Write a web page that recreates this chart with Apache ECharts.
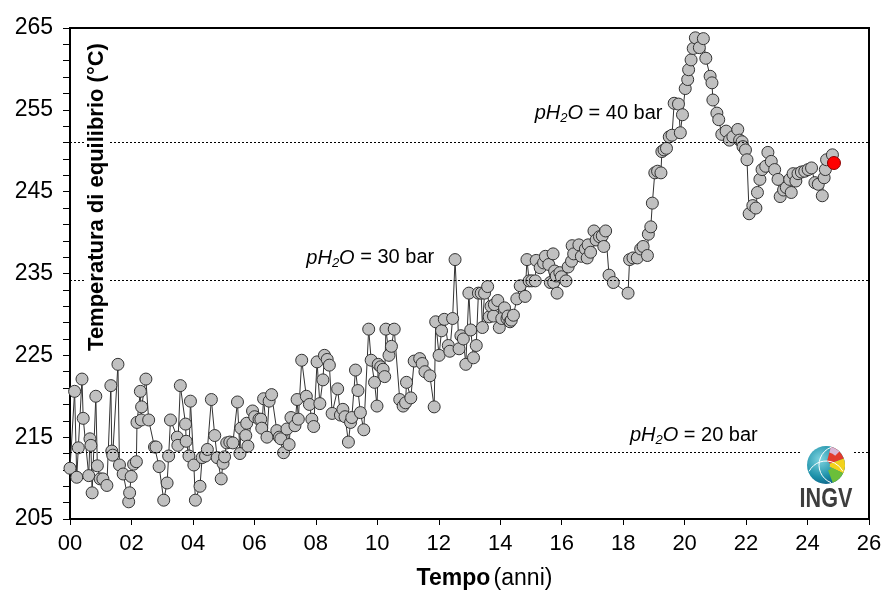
<!DOCTYPE html>
<html>
<head>
<meta charset="UTF-8">
<title>Temperatura di equilibrio</title>
<script type="text/javascript" src="https://cdn.jsdelivr.net/npm/echarts@6/dist/echarts.min.js"></script>
<style>
  body{margin:0;background:#fff}
</style>
</head>
<body>
<div id="main" style="width:882px;height:590px"></div>
<script type="text/javascript">
// tempo in anni e temperatura di equilibrio (°C)
var anni = [0.00,0.15,0.22,0.27,0.39,0.43,0.61,0.65,0.68,0.72,0.84,0.89,0.98,1.07,1.20,1.33,1.36,1.39,1.56,1.61,
  1.73,1.91,1.94,1.99,2.07,2.16,2.18,2.29,2.32,2.33,2.47,2.56,2.75,2.80,2.90,3.05,3.16,3.21,3.27,3.49,
  3.51,3.59,3.76,3.78,3.87,3.92,4.03,4.08,4.23,4.30,4.41,4.47,4.60,4.71,4.79,4.92,4.98,5.03,5.10,5.20,
  5.30,5.45,5.53,5.56,5.72,5.75,5.79,5.94,6.01,6.15,6.21,6.24,6.30,6.41,6.48,6.56,6.73,6.81,6.86,6.95,
  7.06,7.13,7.19,7.32,7.39,7.43,7.54,7.69,7.79,7.87,7.93,8.04,8.13,8.23,8.28,8.37,8.44,8.53,8.71,8.80,
  8.88,8.95,9.06,9.13,9.17,9.29,9.37,9.45,9.56,9.72,9.80,9.91,9.99,10.03,10.11,10.19,10.24,10.28,10.38,10.46,
  10.55,10.73,10.84,10.92,10.95,11.09,11.20,11.38,11.46,11.55,11.71,11.85,11.90,12.01,12.09,12.18,12.31,12.36,12.45,12.53,
  12.66,12.72,12.80,12.88,12.98,13.04,13.13,13.22,13.29,13.38,13.42,13.49,13.59,13.64,13.70,13.78,13.81,13.92,13.97,14.05,
  14.14,14.22,14.25,14.32,14.36,14.43,14.54,14.65,14.81,14.87,14.94,15.03,15.14,15.17,15.30,15.41,15.47,15.58,15.63,15.72,
  15.74,15.77,15.82,15.85,15.94,15.99,16.14,16.21,16.32,16.34,16.39,16.56,16.64,16.77,16.83,16.86,16.94,17.05,17.12,17.23,
  17.32,17.37,17.43,17.54,17.68,18.16,18.21,18.32,18.46,18.57,18.65,18.79,18.82,18.90,18.95,19.03,19.12,19.23,19.26,19.33,
  19.41,19.50,19.59,19.66,19.80,19.86,19.93,20.02,20.10,20.13,20.21,20.28,20.35,20.48,20.61,20.69,20.83,20.89,20.92,21.05,
  21.11,21.21,21.35,21.46,21.57,21.73,21.79,21.87,21.90,21.98,22.03,22.10,22.22,22.32,22.37,22.45,22.52,22.64,22.71,22.82,
  22.93,23.04,23.11,23.22,23.31,23.42,23.47,23.53,23.62,23.69,23.80,23.91,24.02,24.13,24.24,24.35,24.48,24.54,24.58,24.62,
  24.81,24.86];
var temperatura = [211.2,220.6,210.1,213.7,222.1,217.3,210.3,214.8,214.0,208.2,220.0,211.5,209.9,209.9,209.1,221.3,213.3,212.8,223.9,211.6,
  210.5,207.1,208.2,210.2,211.7,212.0,216.8,220.6,217.1,218.7,222.1,217.1,213.8,213.8,211.4,207.3,209.4,212.7,217.1,215.0,
  214.0,221.3,216.6,214.5,212.7,219.4,211.6,207.3,209.0,212.5,212.7,213.5,219.6,215.2,212.5,209.9,211.8,212.6,214.3,214.4,
  214.3,219.3,213.0,216.1,215.2,216.7,213.9,218.2,217.5,217.2,217.2,216.1,219.7,215.0,219.4,220.2,215.8,215.0,214.8,213.1,
  216.0,214.1,217.4,216.4,219.6,217.2,224.4,220.0,219.0,217.2,216.3,224.2,219.1,222.0,225.0,224.5,223.8,217.9,220.9,217.7,
  218.4,217.5,214.4,216.8,217.4,223.2,220.7,218.0,215.9,228.2,224.4,221.7,218.8,223.9,223.6,223.3,222.4,228.2,225.0,226.1,
  228.2,219.6,218.8,219.2,221.7,219.8,224.3,224.6,224.0,223.0,222.5,218.7,229.1,225.0,228.0,229.4,226.2,225.5,229.5,236.7,
  225.8,227.4,227.0,223.9,232.6,228.1,224.7,226.2,232.6,232.6,228.4,232.6,233.4,229.7,231.0,229.8,231.2,231.7,228.4,229.5,
  230.8,229.5,229.8,229.1,229.3,229.9,231.9,233.5,232.2,236.7,234.1,234.1,234.1,236.6,235.7,236.3,237.1,236.1,233.9,237.4,
  233.9,235.3,234.7,232.6,235.1,234.6,234.1,235.8,236.5,238.4,237.4,238.5,237.1,238.0,236.9,238.5,237.6,240.2,239.1,239.5,
  239.6,238.3,240.2,234.8,233.9,232.6,236.7,236.9,236.9,238.0,238.3,237.2,239.8,240.7,243.6,247.3,247.5,247.3,249.9,250.1,
  250.3,251.7,251.9,255.8,255.7,252.2,254.4,257.6,258.7,259.9,261.1,262.5,263.8,262.6,263.7,261.3,259.1,258.3,256.2,254.6,
  253.8,252.0,252.4,251.3,251.7,252.6,251.3,251.1,250.5,250.1,248.9,242.3,243.3,243.0,244.9,246.5,247.7,248.1,249.8,248.7,
  247.7,246.5,244.4,245.2,245.5,246.5,244.9,247.2,246.3,247.2,247.4,247.5,247.7,247.9,246.1,245.9,244.5,246.7,247.7,248.9,
  249.5,248.5];

// soglie di pressione parziale dell'acqua
var soglie = [251.0, 234.2, 213.2];
var etichetteSoglie = ['40', '30', '20'];
var posEtichette = [[17.2, 254.6], [9.77, 236.9], [20.3, 215.2]];

var tickAnni = [0, 2, 4, 6, 8, 10, 12, 14, 16, 18, 20, 22, 24, 26];

var punti = anni.map(function (a, i) {
  return [a, temperatura[i]];
});
// ultimo punto in rosso
punti[punti.length - 1] = {
  value: punti[punti.length - 1],
  symbolSize: 13,
  itemStyle: { color: '#ff0000', borderColor: '#8b0000' }
};

var font = "'Liberation Sans', Arial, sans-serif";
var richPH = {
  i: { fontFamily: font, fontSize: 20, fontStyle: 'italic', color: '#000' },
  s: { fontFamily: font, fontSize: 13, fontStyle: 'italic', color: '#000', padding: [10, 0, 0, 0] },
  n: { fontFamily: font, fontSize: 20, color: '#000' }
};

var myChart = echarts.init(document.getElementById('main'));

var option = {
  animation: false,
  backgroundColor: '#fff',
  grid: {
    left: 70, right: 13, top: 28, bottom: 71,
    outerBoundsMode: 'none',
    show: true, borderColor: '#000', borderWidth: 2
  },
  xAxis: {
    type: 'value', min: 0, max: 26, interval: 2,
    axisLine: { lineStyle: { color: '#000', width: 2 } },
    axisTick: { inside: false, length: 6, lineStyle: { color: '#000', width: 1 },
      customValues: tickAnni },
    axisLabel: {
      color: '#000', fontSize: 22, fontFamily: font, margin: 14,
      customValues: tickAnni,
      formatter: function (v) { return (v < 10 ? '0' : '') + v; }
    },
    splitLine: { show: false },
    name: '{b|Tempo} {n|(anni)}',
    nameLocation: 'middle', nameGap: 48,
    nameTextStyle: {
      padding: [0, 0, 0, 30],
      rich: {
        b: { fontFamily: font, fontSize: 23, fontWeight: 'bold', color: '#000' },
        n: { fontFamily: font, fontSize: 23, color: '#000' }
      }
    }
  },
  yAxis: {
    type: 'value', min: 205, max: 265, interval: 10,
    axisLine: { show: true, lineStyle: { color: '#000', width: 2 } },
    axisTick: { show: true, length: 7, lineStyle: { color: '#000' } },
    minorTick: { show: true, splitNumber: 5, length: 7, lineStyle: { color: '#000' } },
    axisLabel: { color: '#000', fontSize: 23, fontFamily: font, margin: 17 },
    splitLine: { show: false }
  },
  series: [{
    name: 'Temperatura',
    type: 'line',
    data: punti,
    symbol: 'circle',
    symbolSize: 12,
    showAllSymbol: true,
    lineStyle: { color: '#333', width: 1 },
    itemStyle: { color: '#c0c0c0', borderColor: '#333', borderWidth: 1 },
    emphasis: { disabled: true },
    markLine: {
      silent: true,
      symbol: 'none',
      label: { show: false },
      lineStyle: { color: '#000', type: [2, 2], width: 1 },
      data: soglie.map(function (s) { return { yAxis: s }; })
    },
    markPoint: {
      silent: true,
      symbol: 'rect',
      symbolSize: 1,
      itemStyle: { color: 'rgba(0,0,0,0)' },
      label: {
        show: true, position: 'inside', rich: richPH,
        formatter: function (p) { return '{i|pH}{s|2}{i|O}{n| = ' + p.name + ' bar}'; }
      },
      data: posEtichette.map(function (c, i) { return { name: etichetteSoglie[i], coord: c }; })
    },
    z: 3
  }],
  graphic: [
    {
      type: 'text', x: 97, y: 197, rotation: Math.PI / 2, z: 10,
      style: {
        text: 'Temperatura di equilibrio (°C)',
        font: 'bold 22px ' + font, fill: '#000',
        align: 'center', verticalAlign: 'middle',
        backgroundColor: '#fff', padding: [0, 3]
      }
    },
    // logo INGV
    { type: 'rect', shape: { x: 800, y: 440, width: 54, height: 40 }, style: { fill: '#fff' }, z: 10 },
    {
      type: 'circle', shape: { cx: 826, cy: 465, r: 19 }, z: 11,
      style: {
        fill: new echarts.graphic.RadialGradient(0.35, 0.35, 0.8, [
          { offset: 0, color: '#7fd4e0' }, { offset: 0.6, color: '#1a8fa8' }, { offset: 1, color: '#0b4f7a' }
        ])
      }
    },
    { type: 'sector', shape: { cx: 826, cy: 465, r: 19, r0: 4, startAngle: -Math.PI / 2.4, endAngle: -Math.PI / 9 }, style: { fill: '#e23b2e' }, z: 12 },
    { type: 'sector', shape: { cx: 826, cy: 465, r: 19, r0: 4, startAngle: -Math.PI / 9, endAngle: Math.PI / 7 }, style: { fill: '#f3d21b' }, z: 12 },
    { type: 'sector', shape: { cx: 826, cy: 465, r: 19, r0: 6, startAngle: Math.PI / 7, endAngle: Math.PI / 2.6 }, style: { fill: '#6bbf3a' }, z: 12 },
    { type: 'sector', shape: { cx: 826, cy: 465, r: 19, r0: 13, startAngle: -Math.PI / 2.4, endAngle: -Math.PI / 4 }, style: { fill: '#d9b8d8' }, z: 12 },
    { type: 'arc', shape: { cx: 838, cy: 465, r: 19, startAngle: Math.PI * 0.62, endAngle: Math.PI * 1.38 }, style: { stroke: '#fff', lineWidth: 1, fill: null }, z: 13 },
    { type: 'arc', shape: { cx: 826, cy: 480, r: 19, startAngle: Math.PI * 1.15, endAngle: Math.PI * 1.85 }, style: { stroke: '#fff', lineWidth: 1, fill: null }, z: 13 },
    {
      type: 'text', x: 826, y: 500, z: 11, scaleX: 0.8,
      style: {
        text: 'INGV', font: "bold 27px 'Liberation Sans', sans-serif",
        fill: '#3d3d3d', align: 'center', verticalAlign: 'middle'
      }
    }
  ]
};
myChart.setOption(option);
</script>
</body>
</html>
